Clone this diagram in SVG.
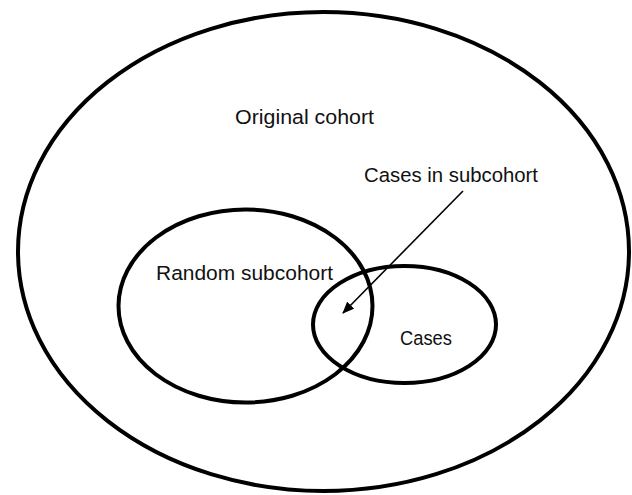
<svg xmlns="http://www.w3.org/2000/svg" width="632" height="495" viewBox="0 0 632 495">
  <style>
    .set { fill: none; stroke: #000; stroke-width: 4; }
    .lbl { font-family: "Liberation Sans", Arial, sans-serif; font-size: 20.5px; fill: #111; }
    .conn { stroke: #000; stroke-width: 1.6; fill: none; }
  </style>
  <defs>
    <marker id="arrow" viewBox="0 0 12 10" refX="11" refY="5" markerWidth="12" markerHeight="10" markerUnits="userSpaceOnUse" orient="auto">
      <path d="M0,0 L12,5 L0,10 Z" fill="#000"/>
    </marker>
  </defs>
  <rect width="632" height="495" fill="#fff"/>
  <g id="original-cohort">
    <ellipse class="set" cx="323.5" cy="251.5" rx="305.5" ry="239.5"/>
    <text class="lbl" x="235" y="124" textLength="139" lengthAdjust="spacingAndGlyphs">Original cohort</text>
  </g>
  <g id="random-subcohort">
    <ellipse class="set" cx="245.5" cy="306" rx="127" ry="96.5"/>
    <text class="lbl" x="156" y="280" textLength="177" lengthAdjust="spacingAndGlyphs">Random subcohort</text>
  </g>
  <g id="cases">
    <ellipse class="set" cx="404.5" cy="324.5" rx="91.5" ry="58.5"/>
    <text class="lbl" x="400" y="345" textLength="52" lengthAdjust="spacingAndGlyphs">Cases</text>
  </g>
  <g id="cases-in-subcohort">
    <text class="lbl" x="364" y="182" textLength="174" lengthAdjust="spacingAndGlyphs">Cases in subcohort</text>
  </g>
  <g id="connectors">
    <line class="conn" x1="463" y1="191" x2="343" y2="313" marker-end="url(#arrow)"/>
  </g>
</svg>
